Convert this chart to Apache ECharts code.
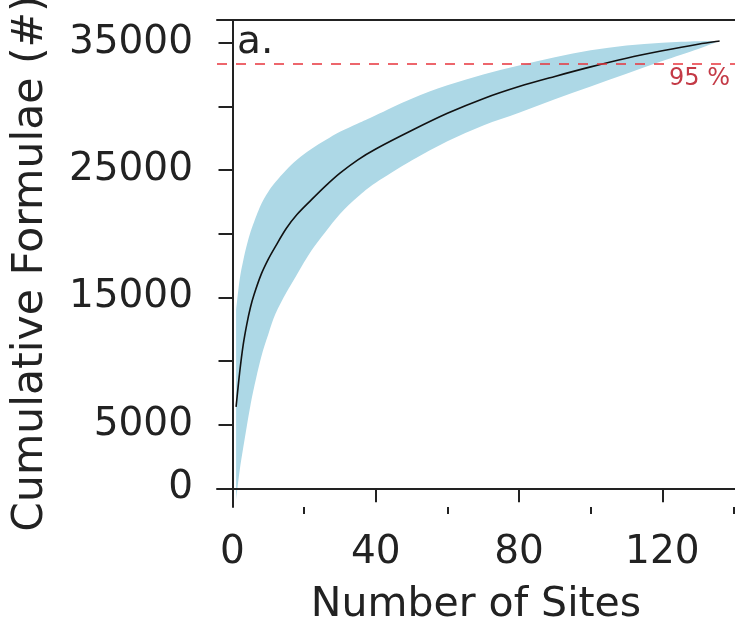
<!DOCTYPE html>
<html>
<head>
<meta charset="utf-8">
<script src="https://cdn.jsdelivr.net/npm/echarts@6/dist/echarts.min.js"></script>
<style>html,body{margin:0;padding:0;background:#fff}#c{width:735px;height:617px}</style>
</head>
<body>
<div id="c"></div>
<script>
// Data
var sites = [1, 2, 3, 4, 5, 6, 8, 10, 12, 15, 18, 22, 26, 30, 35, 40, 50, 60, 70, 80, 90, 100, 110, 120, 130, 136];
var meanValues = [6400, 9100, 11300, 12900, 14200, 15200, 16800, 18000, 19000, 20400, 21500, 22650, 23750, 24750, 25800, 26650, 28100, 29450, 30600, 31550, 32350, 33100, 33780, 34360, 34880, 35130];
var upperValues = [14000, 16400, 17900, 19100, 20100, 20900, 22300, 23300, 24050, 25000, 25800, 26650, 27350, 28000, 28650, 29300, 30600, 31650, 32500, 33200, 33850, 34400, 34780, 34990, 35110, 35130];
var lowerValues = [-900, 1400, 3200, 4900, 6500, 7900, 10300, 12100, 13700, 15350, 16800, 18650, 20150, 21550, 22900, 24000, 25750, 27250, 28500, 29500, 30550, 31550, 32550, 33550, 34500, 35130];
var thresholdValue = [33345];
var thresholdLabel = ['95 %'];
var xTickLabels = [0, 40, 80, 120];
var xMinorTicks = [20, 60, 100, 140];
var yTickValues = [0, 5000, 10000, 15000, 20000, 25000, 30000, 35000];
var yTickLabels = [0, 5000, 15000, 25000, 35000];
var panelLabel = 'a.';
var xName = 'Number of Sites';
var yName = 'Cumulative Formulae (#)';

var FONT = 'DejaVu Sans';
var TEXT = '#222';
var plain = function (v) { return String(v); };

// Catmull-Rom curve through pixel points (from api.coord) as SVG bezier commands
function curveThrough(pts) {
  var d = '';
  for (var i = 0; i < pts.length - 1; i++) {
    var p0 = pts[i > 0 ? i - 1 : i], p1 = pts[i], p2 = pts[i + 1], p3 = pts[i + 2 < pts.length ? i + 2 : i + 1];
    var c1x = p1[0] + (p2[0] - p0[0]) / 6, c1y = p1[1] + (p2[1] - p0[1]) / 6;
    var c2x = p2[0] - (p3[0] - p1[0]) / 6, c2y = p2[1] - (p3[1] - p1[1]) / 6;
    d += ' C' + c1x + ' ' + c1y + ' ' + c2x + ' ' + c2y + ' ' + p2[0] + ' ' + p2[1];
  }
  return d;
}

function renderCurves(params, api) {
  var up = sites.map(function (s, i) { return api.coord([s, upperValues[i]]); });
  var lo = sites.map(function (s, i) { return api.coord([s, lowerValues[i]]); }).reverse();
  var mn = sites.map(function (s, i) { return api.coord([s, meanValues[i]]); });
  var band = 'M' + up[0][0] + ' ' + up[0][1] + curveThrough(up) +
             ' L' + lo[0][0] + ' ' + lo[0][1] + curveThrough(lo) + ' Z';
  var mean = 'M' + mn[0][0] + ' ' + mn[0][1] + curveThrough(mn);
  return {
    type: 'group',
    children: [
      { type: 'path', shape: { pathData: band }, style: { fill: '#add8e6', stroke: null } },
      { type: 'path', shape: { pathData: mean }, style: { fill: null, stroke: '#111', lineWidth: 1.6 } }
    ]
  };
}

var chart = echarts.init(document.getElementById('c'), null, { renderer: 'canvas' });
var xMin = -4.33, xMax = 140.3;
var axisLineStyle = { color: '#222', width: 2 };
chart.setOption({
  animation: false,
  backgroundColor: '#fff',
  grid: { left: 217, right: 0, top: 20, bottom: 110, containLabel: false, outerBoundsMode: 'none' },
  xAxis: [
    {
      type: 'value', position: 'bottom', min: xMin, max: xMax, z: 10,
      axisLine: { show: true, lineStyle: axisLineStyle },
      axisTick: { show: true, length: 14, lineStyle: axisLineStyle, customValues: xTickLabels },
      axisLabel: { show: true, customValues: xTickLabels, formatter: plain, fontFamily: FONT, fontSize: 39, color: TEXT, margin: 26 },
      splitLine: { show: false },
      name: xName, nameLocation: 'middle', nameGap: 78,
      nameTextStyle: { fontFamily: FONT, fontSize: 41, color: TEXT }
    },
    {
      type: 'value', position: 'top', min: xMin, max: xMax, z: 10,
      axisLine: { show: true, lineStyle: axisLineStyle },
      axisTick: { show: false }, axisLabel: { show: false }, splitLine: { show: false }
    },
    {
      type: 'value', position: 'bottom', offset: 0, min: xMin, max: xMax, z: 10,
      axisLine: { show: false },
      axisTick: { show: true, length: 7, lineStyle: axisLineStyle, customValues: xMinorTicks },
      axisLabel: { show: false }, splitLine: { show: false }
    }
  ],
  yAxis: [
    {
      type: 'value', min: -1470, max: 36780, z: 10,
      axisLine: { show: true, lineStyle: axisLineStyle },
      axisTick: { show: true, length: 14, lineStyle: axisLineStyle, customValues: yTickValues },
      axisLabel: { show: true, customValues: yTickLabels, formatter: plain, fontFamily: FONT, fontSize: 39, color: TEXT, margin: 24 },
      splitLine: { show: false },
      name: yName, nameLocation: 'middle', nameGap: 165,
      nameTextStyle: { fontFamily: FONT, fontSize: 42.5, color: TEXT }
    }
  ],
  graphic: [
    { type: 'text', left: 237, top: 23, style: { text: panelLabel, font: '39px "DejaVu Sans"', fill: TEXT } }
  ],
  series: [
    {
      name: 'rarefaction', type: 'custom', renderItem: renderCurves, data: [[sites[0], meanValues[0]]],
      silent: true, z: 1, clip: false
    },
    {
      name: 'threshold', type: 'line', data: [], symbol: 'none', z: 3,
      markLine: {
        silent: true, symbol: 'none',
        lineStyle: { color: '#e8343c', width: 1.5, type: [10, 9] },
        label: { show: true, position: 'insideEndBottom', formatter: thresholdLabel[0], fontFamily: FONT, fontSize: 24, color: '#c43a46', distance: [5, 3] },
        data: [{ yAxis: thresholdValue[0] }]
      }
    }
  ]
});
</script>
</body>
</html>
